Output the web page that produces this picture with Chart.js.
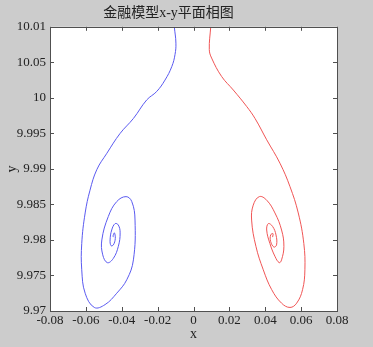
<!DOCTYPE html>
<html>
<head>
<meta charset="utf-8">
<script src="https://cdn.jsdelivr.net/npm/chart.js@4/dist/chart.umd.min.js"></script>
<style>
    html, body { margin: 0; padding: 0; background: #cccccc; }
    #box { width: 373px; height: 347px; }
</style>
</head>
<body>
<div id="box"><canvas id="phaseChart"></canvas></div>
<script>
const chartTitle = '金融模型x-y平面相图';

const xTickValues = [-0.08, -0.06, -0.04, -0.02, 0, 0.02, 0.04, 0.06, 0.08];
const xTickLabels = ['-0.08', '-0.06', '-0.04', '-0.02', '0', '0.02', '0.04', '0.06', '0.08'];
const yTickValues = [9.97, 9.975, 9.98, 9.985, 9.99, 9.995, 10, 10.005, 10.01];
const yTickLabels = ['9.97', '9.975', '9.98', '9.985', '9.99', '9.995', '10', '10.05', '10.01'];

// blue trajectory (left)
const blueX = [-0.0107, -0.0098, -0.0103, -0.0121, -0.0159, -0.0205, -0.0261, -0.0335, -0.0409, -0.0483,
    -0.0539, -0.0577, -0.0604, -0.0623, -0.0623, -0.0604, -0.0553, -0.0493, -0.0428, -0.0372,
    -0.0335, -0.0326, -0.0344, -0.0376, -0.0428, -0.0475, -0.0511, -0.0506, -0.0480, -0.0447,
    -0.0419, -0.0409, -0.0419, -0.0437, -0.0456, -0.0465, -0.0460, -0.0447, -0.0436, -0.0441,
    -0.0448, -0.0447];
const blueY = [10.0100, 10.0077, 10.0061, 10.0044, 10.0025, 10.0009, 9.9997, 9.9971, 9.9950, 9.9922,
    9.9899, 9.9870, 9.9838, 9.9795, 9.9758, 9.9725, 9.9705, 9.9709, 9.9725, 9.9744,
    9.9772, 9.9828, 9.9854, 9.9861, 9.9854, 9.9833, 9.9800, 9.9779, 9.9768, 9.9774,
    9.9791, 9.9810, 9.9821, 9.9823, 9.9814, 9.9800, 9.9792, 9.9793, 9.9802, 9.9810,
    9.9806, 9.9804];

// red trajectory (right)
const redX = [0.0096, 0.0088, 0.0101, 0.0157, 0.0222, 0.0296, 0.0343, 0.0408, 0.0482, 0.0538,
    0.0584, 0.0615, 0.0621, 0.0608, 0.0575, 0.0538, 0.0491, 0.0436, 0.0389, 0.0348,
    0.0324, 0.0333, 0.0367, 0.0408, 0.0454, 0.0491, 0.0504, 0.0491, 0.0478, 0.0454,
    0.0426, 0.0408, 0.0417, 0.0441, 0.0460, 0.0463, 0.0448, 0.0430, 0.0430, 0.0443,
    0.0441];
const redY = [10.0100, 10.0068, 10.0056, 10.0030, 10.0011, 9.9988, 9.9971, 9.9941, 9.9908, 9.9875,
    9.9838, 9.9795, 9.9758, 9.9730, 9.9711, 9.9705, 9.9711, 9.9730, 9.9758, 9.9791,
    9.9828, 9.9849, 9.9861, 9.9856, 9.9838, 9.9814, 9.9791, 9.9772, 9.9768, 9.9777,
    9.9795, 9.9814, 9.9823, 9.9819, 9.9807, 9.9793, 9.9790, 9.9798, 9.9807, 9.9809,
    9.9804];

function toPoints(xs, ys) {
    const pts = [];
    for (let i = 0; i < xs.length; i++) {
        pts.push({ x: xs[i], y: ys[i] });
    }
    return pts;
}

// frame with inward ticks on all four sides
const frameTicks = {
    id: 'frameTicks',
    afterDraw(chart) {
        const ctx = chart.ctx;
        const a = chart.chartArea;
        const xs = chart.scales.x;
        const ys = chart.scales.y;
        const len = 4;
        ctx.save();
        ctx.strokeStyle = '#505050';
        ctx.lineWidth = 1;
        ctx.beginPath();
        xTickValues.forEach(function (v) {
            const px = Math.round(xs.getPixelForValue(v)) + 0.5;
            ctx.moveTo(px, a.bottom);
            ctx.lineTo(px, a.bottom - len);
            ctx.moveTo(px, a.top);
            ctx.lineTo(px, a.top + len);
        });
        yTickValues.forEach(function (v) {
            const py = Math.round(ys.getPixelForValue(v)) + 0.5;
            ctx.moveTo(a.left, py);
            ctx.lineTo(a.left + len, py);
            ctx.moveTo(a.right, py);
            ctx.lineTo(a.right - len, py);
        });
        ctx.stroke();
        ctx.strokeRect(Math.round(a.left) + 0.5, Math.round(a.top) + 0.5,
            Math.round(a.right - a.left), Math.round(a.bottom - a.top));
        ctx.restore();
    }
};

const bgPlot = {
    id: 'bgPlot',
    beforeDraw(chart) {
        const ctx = chart.ctx;
        const a = chart.chartArea;
        ctx.save();
        ctx.fillStyle = '#cccccc';
        ctx.fillRect(0, 0, chart.width, chart.height);
        ctx.fillStyle = '#ffffff';
        ctx.fillRect(a.left, a.top, a.right - a.left, a.bottom - a.top);
        ctx.restore();
    }
};

const serif = '"Liberation Serif", "Times New Roman", "Noto Sans CJK SC", serif';

new Chart(document.getElementById('phaseChart'), {
    type: 'scatter',
    data: {
        datasets: [{
            label: 'blue',
            data: toPoints(blueX, blueY),
            showLine: true,
            borderColor: '#5a5af0',
            borderWidth: 1,
            pointRadius: 0,
            tension: 0.4,
            fill: false
        }, {
            label: 'red',
            data: toPoints(redX, redY),
            showLine: true,
            borderColor: '#f05555',
            borderWidth: 1,
            pointRadius: 0,
            tension: 0.4,
            fill: false
        }]
    },
    options: {
        responsive: true,
        maintainAspectRatio: false,
        animation: false,
        layout: { padding: { left: 0, right: 36, top: 0, bottom: 0 } },
        plugins: {
            legend: { display: false },
            tooltip: { enabled: false },
            title: {
                display: true,
                text: chartTitle,
                color: '#222',
                font: { family: serif, size: 14, weight: 'normal' },
                padding: { top: 5, bottom: 5 }
            }
        },
        scales: {
            x: {
                type: 'linear',
                min: -0.08,
                max: 0.08,
                afterFit: function (s) { s.height = 36; },
                afterBuildTicks: function (s) {
                    s.ticks = xTickValues.map(function (v) { return { value: v }; });
                },
                grid: { display: false, drawTicks: false },
                border: { display: false },
                ticks: {
                    color: '#222',
                    padding: 2,
                    maxRotation: 0,
                    autoSkip: false,
                    font: { family: serif, size: 13 },
                    callback: function (v, i) { return xTickLabels[i]; }
                },
                title: {
                    display: true,
                    text: 'x',
                    color: '#222',
                    font: { family: serif, size: 14 },
                    padding: { top: 0, bottom: 4 }
                }
            },
            y: {
                type: 'linear',
                min: 9.97,
                max: 10.01,
                afterFit: function (s) { s.width = 50; },
                afterBuildTicks: function (s) {
                    s.ticks = yTickValues.map(function (v) { return { value: v }; });
                },
                grid: { display: false, drawTicks: false },
                border: { display: false },
                ticks: {
                    color: '#222',
                    padding: 4,
                    autoSkip: false,
                    font: { family: serif, size: 13 },
                    callback: function (v, i) { return yTickLabels[i]; }
                },
                title: {
                    display: true,
                    text: 'y',
                    color: '#222',
                    font: { family: serif, size: 14 },
                    padding: { top: 4, bottom: 0 }
                }
            }
        }
    },
    plugins: [bgPlot, frameTicks]
});
</script>
</body>
</html>
